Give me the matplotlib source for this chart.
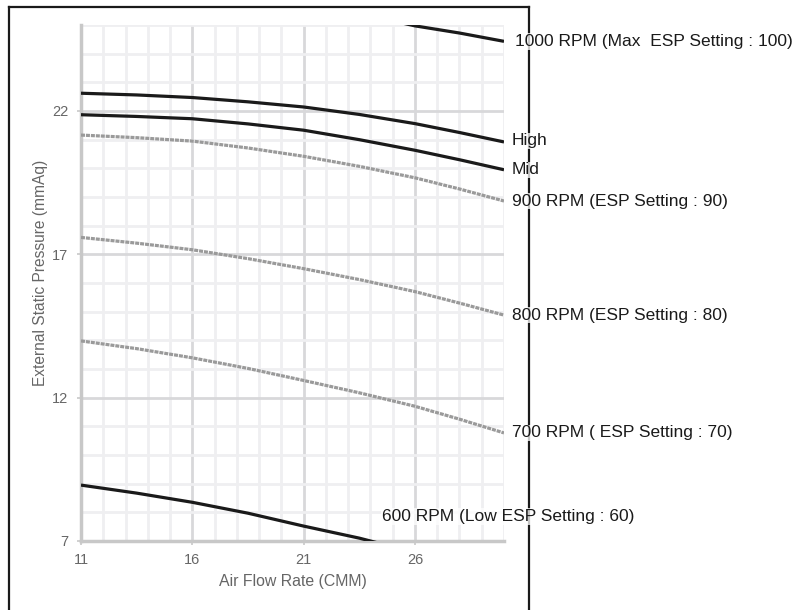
import matplotlib
matplotlib.use("Agg")
import matplotlib.pyplot as plt
from matplotlib.lines import Line2D
from matplotlib.ticker import MultipleLocator

plt.rcParams['font.family'] = ['Liberation Sans', 'DejaVu Sans']

# Data
x_main = [11, 13.5, 16, 18.5, 21, 23.5, 26, 28, 30]
rpm1000 = [26.3, 26.22, 26.1, 25.92, 25.7, 25.4, 24.97, 24.72, 24.43]
high = [22.62, 22.56, 22.47, 22.32, 22.14, 21.88, 21.56, 21.25, 20.92]
mid = [21.87, 21.81, 21.73, 21.55, 21.33, 21.0, 20.63, 20.3, 19.95]
rpm900 = [21.16, 21.07, 20.95, 20.71, 20.42, 20.07, 19.67, 19.28, 18.86]
rpm800 = [17.59, 17.39, 17.16, 16.85, 16.5, 16.12, 15.7, 15.3, 14.88]
rpm700 = [13.98, 13.71, 13.39, 13.02, 12.6, 12.17, 11.7, 11.25, 10.77]
x_low = [11, 13.5, 16, 18.5, 21, 23.5, 24, 26]
rpm600 = [8.95, 8.67, 8.35, 7.97, 7.52, 7.1, 7.0, 6.6]

labels = {
    "1000": "1000 RPM (Max  ESP Setting : 100)",
    "high": "High",
    "mid": "Mid",
    "900": "900 RPM (ESP Setting : 90)",
    "800": "800 RPM (ESP Setting : 80)",
    "700": "700 RPM ( ESP Setting : 70)",
    "600": "600 RPM (Low ESP Setting : 60)",
}
x_ticks = [11, 16, 21, 26]
y_ticks = [7, 12, 17, 22]

fig = plt.figure(figsize=(7.94, 6.10), dpi=100)
ax = fig.add_axes([81/794, 69/610, 423/794, 516/610])
ax.set_xlim(11, 30)
ax.set_ylim(7, 25)

# grid
ax.xaxis.set_minor_locator(MultipleLocator(1))
ax.yaxis.set_minor_locator(MultipleLocator(1))
ax.set_xticks(x_ticks)
ax.set_yticks(y_ticks)
ax.grid(which='minor', color='#efeff1', linewidth=2.0, zorder=0)
ax.grid(which='major', color='#d8d8da', linewidth=2.0, zorder=0)
ax.set_axisbelow(True)
for s in ['top', 'right']:
    ax.spines[s].set_visible(False)
for s in ['left', 'bottom']:
    ax.spines[s].set_color('#c8c8c8')
    ax.spines[s].set_linewidth(2.5)
ax.tick_params(axis='both', which='major', length=3, width=1.2, color='#c8c8c8',
               labelcolor='#666666', labelsize=10.5, pad=6)
ax.tick_params(axis='both', which='minor', length=0)
ax.set_xlabel("Air Flow Rate (CMM)", color='#666666', fontsize=11.4, labelpad=5)
ax.set_ylabel("External Static Pressure (mmAq)", color='#666666', fontsize=11.2)
ax.yaxis.set_label_coords(-0.078, 0.52)

solid = dict(color='#1a1a1a', linewidth=2.3, solid_capstyle='butt', zorder=3)
dashed = dict(color='#9a9a9a', linewidth=2.3, linestyle=(0, (1.25, 0.3)), zorder=3)

ax.plot(x_main, rpm1000, **solid)
ax.plot(x_main, high, **solid)
ax.plot(x_main, mid, **solid)
ax.plot(x_main, rpm900, **dashed)
ax.plot(x_main, rpm800, **dashed)
ax.plot(x_main, rpm700, **dashed)
ax.plot(x_low, rpm600, **solid)

bbox = dict(facecolor='white', alpha=0.75, edgecolor='none', pad=0.5)
tk = dict(fontsize=12.5, color='#1a1a1a', va='center', ha='left', clip_on=False,
          bbox=bbox, textcoords='offset points', zorder=5)
ax.annotate(labels["1000"], xy=(x_main[-1], rpm1000[-1]), xytext=(8, 0), **tk)
ax.annotate(labels["high"], xy=(x_main[-1], high[-1]), xytext=(5.5, 0.8), **tk)
ax.annotate(labels["mid"], xy=(x_main[-1], mid[-1]), xytext=(5.5, 0), **tk)
ax.annotate(labels["900"], xy=(x_main[-1], rpm900[-1]), xytext=(5.5, 0), **tk)
ax.annotate(labels["800"], xy=(x_main[-1], rpm800[-1]), xytext=(5.5, 0), **tk)
ax.annotate(labels["700"], xy=(x_main[-1], rpm700[-1]), xytext=(5.5, 0), **tk)
ax.text(24.5, 7.85, labels["600"], fontsize=12.5, color='#1a1a1a', va='center', ha='left',
        clip_on=False, bbox=bbox, zorder=5)

# outer frame (open at bottom)
W, H = 794, 610
fx = lambda px: px / W
fy = lambda py: 1 - py / H
frame_kw = dict(color='#1a1a1a', linewidth=1.6, transform=fig.transFigure, zorder=-1)
fig.add_artist(Line2D([fx(9), fx(528.5)], [fy(7), fy(7)], **frame_kw))
fig.add_artist(Line2D([fx(9), fx(9)], [fy(7), fy(612)], **frame_kw))
fig.add_artist(Line2D([fx(528.5), fx(528.5)], [fy(7), fy(612)], **frame_kw))

fig.savefig("out.png", dpi=100)
